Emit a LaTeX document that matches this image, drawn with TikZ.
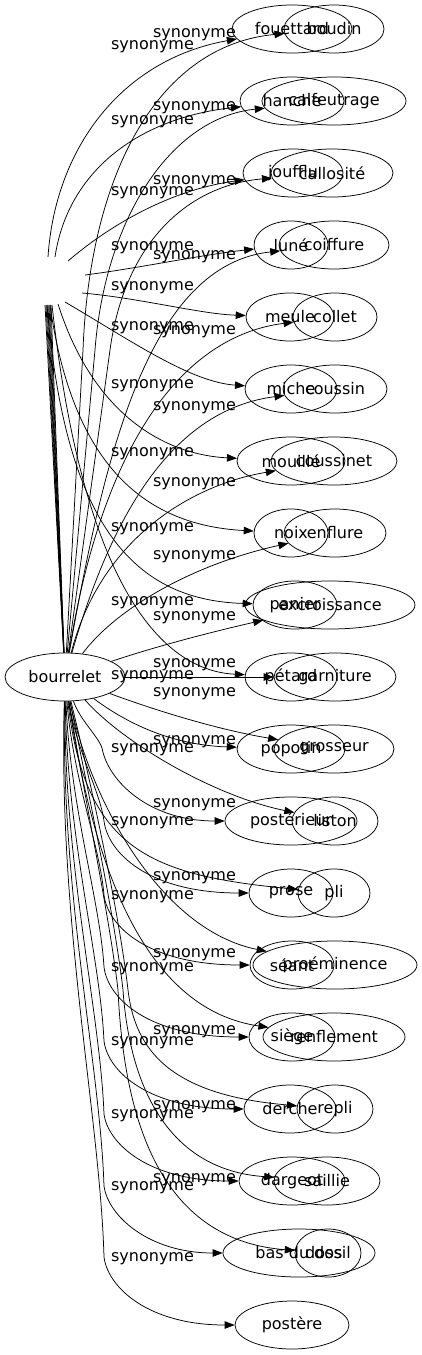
\documentclass[tikz,border=0pt]{standalone}
\usepackage{fontspec}
\setmainfont{DejaVu Sans}
\usetikzlibrary{shapes.geometric,arrows.meta}
\begin{document}
\begin{tikzpicture}[x=1pt,y=-1pt,
  nd/.style={draw, ellipse, inner sep=0pt, minimum height=48pt, line width=0.75pt, font=\fontsize{16}{19}\selectfont},
  lab/.style={inner sep=0pt, font=\fontsize{16}{19}\selectfont},
  edge/.style={draw, line width=0.75pt, -{Triangle[length=10pt,width=7.5pt]}},
  bare/.style={draw, line width=0.75pt}]
\useasboundingbox (0,0) rectangle (422,1355);
% centre node
\node[nd, minimum width=120pt] (b) at (65,677) {bourrelet};
% left column nodes
\node[nd, minimum width=120pt] (l1) at (292,29) {fouettard};
\node[nd, minimum width=104pt] (l2) at (292,101) {hanche};
\node[nd, minimum width=100pt] (l3) at (293,173) {joufflu};
\node[nd, minimum width=74pt] (l4) at (291,245) {luné};
\node[nd, minimum width=88pt] (l5) at (290,317) {meule};
\node[nd, minimum width=92pt] (l6) at (291,389) {miche};
\node[nd, minimum width=108pt] (l7) at (291,461) {mouillé};
\node[nd, minimum width=74pt] (l8) at (291,533) {noix};
\node[nd, minimum width=84pt] (l9) at (295,605) {panier};
\node[nd, minimum width=92pt] (l10) at (291,677) {pétard};
\node[nd, minimum width=108pt] (l11) at (291,749) {popotin};
\node[nd, minimum width=132pt] (l12) at (291,821) {postérieur};
\node[nd, minimum width=84pt] (l13) at (291,893) {prose};
\node[nd, minimum width=84pt] (l14) at (292,965) {séant};
\node[nd, minimum width=86pt] (l15) at (292,1037) {siège};
\node[nd, minimum width=92pt] (l16) at (290,1109) {derche};
\node[nd, minimum width=106pt] (l17) at (292,1181) {dargeot};
\node[nd, minimum width=152pt] (l18) at (299,1253) {bas du dos};
\node[nd, minimum width=114pt] (l19) at (292,1325) {postère};
% right column nodes
\node[nd, minimum width=100pt] (r1) at (334,29) {boudin};
\node[nd, minimum width=144pt] (r2) at (334,101) {calfeutrage};
\node[nd, minimum width=122pt] (r3) at (332,173) {callosité};
\node[nd, minimum width=110pt] (r4) at (334,245) {coiffure};
\node[nd, minimum width=84pt] (r5) at (335,317) {collet};
\node[nd, minimum width=104pt] (r6) at (335,389) {coussin};
\node[nd, minimum width=126pt] (r7) at (334,461) {coussinet};
\node[nd, minimum width=102pt] (r8) at (335,533) {enflure};
\node[nd, minimum width=170pt] (r9) at (330,605) {excroissance};
\node[nd, minimum width=122pt] (r10) at (335,677) {garniture};
\node[nd, minimum width=120pt] (r11) at (334,749) {grosseur};
\node[nd, minimum width=86pt] (r12) at (335,821) {liston};
\node[nd, minimum width=72pt] (r13) at (334,893) {pli};
\node[nd, minimum width=164pt] (r14) at (335,965) {proéminence};
\node[nd, minimum width=142pt] (r15) at (334,1037) {renflement};
\node[nd, minimum width=76pt] (r16) at (335,1109) {repli};
\node[nd, minimum width=106pt] (r17) at (327,1181) {saillie};
\node[nd, minimum width=66pt] (r18) at (328,1253) {dossil};
% free ends and waypoints
\coordinate (s1) at (48,257); \coordinate (s2) at (55,257);
\coordinate (s3) at (68,261); \coordinate (s4) at (85,275);
\coordinate (s5) at (82,293); \coordinate (s6) at (65,302);
\coordinate (s7) at (58,304); \coordinate (s8) at (50,305);
\coordinate (s9) at (47,305); \coordinate (s10) at (52,305);
\coordinate (k1) at (45,305); \coordinate (k2) at (46,305);
\coordinate (k3) at (47,305); \coordinate (k4) at (48,305);
\coordinate (k5) at (49,305); \coordinate (k6) at (50,305);
\coordinate (k7) at (51,305);
\coordinate (v1) at (83,350); \coordinate (v2) at (95,350);
\coordinate (v3) at (110,350);
\coordinate (a12) at (102,748); \coordinate (a13) at (104,821);
\coordinate (a14) at (104,895); \coordinate (a15) at (104,967);
\coordinate (a16) at (104,1041); \coordinate (a17) at (104,1114);
\coordinate (a18) at (104,1186); \coordinate (a19) at (104,1257);
\coordinate (w16) at (128,990); \coordinate (w17) at (123,990);
\coordinate (w18) at (118,990);
% bundle above the centre node
\foreach \k in {k1,k2,k3,k4,k5,k6,k7} \draw[bare] (b) -- (\k);
% upper left edges
\draw[edge] (s1) .. controls (55,150) and (120,60) .. (l1);
\draw[edge] (s2) .. controls (68,170) and (140,118) .. (l2);
\draw[edge] (s3) .. controls (110,225) and (170,190) .. (l3);
\draw[edge] (s4) .. controls (140,268) and (200,255) .. (l4);
\draw[edge] (s5) .. controls (140,298) and (200,314) .. (l5);
\draw[edge] (s6) .. controls (130,340) and (190,382) .. (l6);
\draw[edge] (s7) .. controls (95,420) and (170,455) .. (l7);
\draw[edge] (s8) .. controls (72,460) and (140,525) .. (l8);
\draw[edge] (s9) .. controls (65,520) and (130,600) .. (l9);
\draw[edge] (s10) .. controls (80,560) and (150,670) .. (l10);
% upper right edges
\draw[edge] (b) -- (v1) .. controls (90,170) and (160,45) .. (r1);
\draw[edge] (b) -- (v2) .. controls (105,220) and (170,118) .. (r2);
\draw[edge] (b) -- (v3) .. controls (125,240) and (190,185) .. (r3);
\draw[edge] (b) .. controls (105,450) and (150,265) .. (r4);
\draw[edge] (b) .. controls (105,430) and (190,335) .. (r5);
\draw[edge] (b) .. controls (110,520) and (170,410) .. (r6);
\draw[edge] (b) .. controls (100,540) and (190,485) .. (r7);
\draw[edge] (b) .. controls (115,610) and (190,565) .. (r8);
\draw[edge] (b) .. controls (160,645) and (220,630) .. (r9);
\draw[edge] (b) -- (r10);
% lower left edges
\draw[edge] (b) .. controls (125,722) and (170,745) .. (l11);
\draw[edge] (b) .. controls (80,720) and (98,736) .. (a12) .. controls (108,781) and (149,821) .. (l12);
\draw[edge] (b) .. controls (76,749) and (100,791) .. (a13) .. controls (108,853) and (149,893) .. (l13);
\draw[edge] (b) .. controls (73,779) and (100,846) .. (a14) .. controls (108,927) and (149,965) .. (l14);
\draw[edge] (b) .. controls (70,807) and (100,900) .. (a15) .. controls (108,999) and (149,1037) .. (l15);
\draw[edge] (b) .. controls (67,837) and (100,956) .. (a16) .. controls (108,1072) and (149,1109) .. (l16);
\draw[edge] (b) .. controls (64,866) and (100,1011) .. (a17) .. controls (108,1144) and (149,1181) .. (l17);
\draw[edge] (b) .. controls (61,895) and (100,1065) .. (a18) .. controls (108,1216) and (149,1253) .. (l18);
\draw[edge] (b) .. controls (58,923) and (100,1118) .. (a19) .. controls (108,1288) and (149,1325) .. (l19);
% lower right edges
\draw[edge] (b) .. controls (160,712) and (220,730) .. (r11);
\draw[edge] (b) .. controls (120,740) and (210,795) .. (r12);
\draw[edge] (b) .. controls (85,850) and (150,875) .. (r13);
\draw[edge] (b) .. controls (90,800) and (160,930) .. (r14);
\draw[edge] (b) .. controls (95,880) and (150,1010) .. (r15);
\draw[edge] (b) .. controls (95,800) and (120,920) .. (w16) .. controls (135,1050) and (170,1095) .. (r16);
\draw[edge] (b) .. controls (90,800) and (115,920) .. (w17) .. controls (130,1090) and (170,1170) .. (r17);
\draw[edge] (b) .. controls (85,800) and (110,920) .. (w18) .. controls (124,1120) and (160,1240) .. (r18);
% edge labels
\foreach \y [count=\i] in {47,122,193,248,288,328,386,454,529,603,677,750,823,897,969,1043,1116,1188,1259}
  \node[lab] (la\i) at (152.5,\y) {synonyme};
\foreach \y [count=\i] in {35,108,182,257,332,408,484,557,618,665,694,742,805,878,955,1032,1107,1180}
  \node[lab] (lb\i) at (194.5,\y) {synonyme};
\end{tikzpicture}
\end{document}
